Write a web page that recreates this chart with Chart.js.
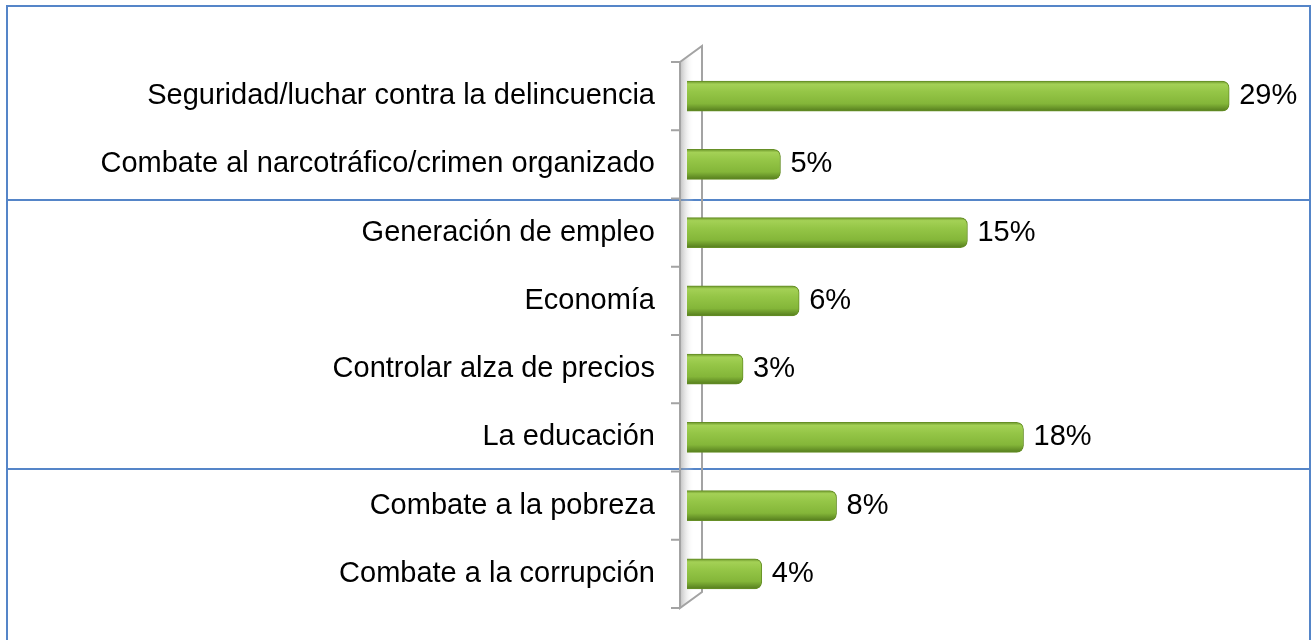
<!DOCTYPE html>
<html>
<head>
<meta charset="utf-8">
<script src="https://cdn.jsdelivr.net/npm/chart.js@4.4.1/dist/chart.umd.min.js"></script>
<style>
    html, body { margin: 0; padding: 0; background: #fff; }
    #wrap { width: 1316px; height: 640px; }
</style>
</head>
<body>
<div id="wrap"><canvas id="chart_1" width="1316" height="640"></canvas></div>
<script>
const categories = [
    'Seguridad/luchar contra la delincuencia',
    'Combate al narcotráfico/crimen organizado',
    'Generación de empleo',
    'Economía',
    'Controlar alza de precios',
    'La educación',
    'Combate a la pobreza',
    'Combate a la corrupción'
];
const values = [29, 5, 15, 6, 3, 18, 8, 4];

const FAMILY = '"Liberation Sans", Arial, sans-serif';
const SIZE = 29;

// blue frame of the table behind the chart
const framePlugin = {
    id: 'frame',
    beforeDraw(chart) {
        const ctx = chart.ctx;
        ctx.save();
        ctx.strokeStyle = '#5585c8';
        ctx.lineWidth = 2;
        ctx.beginPath();
        ctx.moveTo(7, 640);
        ctx.lineTo(7, 6);
        ctx.lineTo(1310, 6);
        ctx.lineTo(1310, 640);
        ctx.moveTo(7, 200);
        ctx.lineTo(1310, 200);
        ctx.moveTo(7, 469);
        ctx.lineTo(1310, 469);
        ctx.stroke();
        ctx.restore();
    }
};

// 3d wall on the category axis
const wallPlugin = {
    id: 'wall',
    beforeDatasetsDraw(chart) {
        const ctx = chart.ctx;
        const a = chart.chartArea;
        const x0 = a.left - 7, x1 = a.left + 15, d = 16;
        ctx.save();
        ctx.beginPath();
        ctx.moveTo(x0, a.top);
        ctx.lineTo(x1, a.top - d);
        ctx.lineTo(x1, a.bottom - d);
        ctx.lineTo(x0, a.bottom);
        ctx.closePath();
        const g = ctx.createLinearGradient(x0, 0, x0 + 14, 0);
        g.addColorStop(0, 'rgba(140,140,140,0.55)');
        g.addColorStop(1, 'rgba(255,255,255,0)');
        ctx.fillStyle = g;
        ctx.fill();
        ctx.strokeStyle = '#a3a3a3';
        ctx.lineWidth = 2;
        ctx.stroke();
        // tick marks on category boundaries
        ctx.beginPath();
        for (let i = 0; i <= categories.length; i++) {
            const py = a.top + (a.bottom - a.top) * i / categories.length;
            ctx.moveTo(x0 - 9, py);
            ctx.lineTo(x0, py);
        }
        ctx.stroke();
        ctx.restore();
    }
};

const labelPlugin = {
    id: 'valueLabels',
    afterDatasetsDraw(chart) {
        const ctx = chart.ctx;
        ctx.save();
        ctx.font = SIZE + 'px ' + FAMILY;
        ctx.fillStyle = '#000';
        ctx.textAlign = 'left';
        ctx.textBaseline = 'middle';
        chart.getDatasetMeta(0).data.forEach((bar, i) => {
            ctx.fillText(values[i] + '%', bar.x + 10, bar.y);
        });
        ctx.restore();
    }
};

function barGradient(context) {
    const chart = context.chart;
    if (!chart.chartArea) return '#8cc03c';
    const cy = chart.scales.y.getPixelForValue(context.dataIndex);
    const g = chart.ctx.createLinearGradient(0, cy - 15, 0, cy + 15);
    g.addColorStop(0, '#6c962a');
    g.addColorStop(0.1, '#a4d156');
    g.addColorStop(0.35, '#95c647');
    g.addColorStop(0.75, '#84b639');
    g.addColorStop(1, '#557d1d');
    return g;
}

document.addEventListener('DOMContentLoaded', function () {
    new Chart(document.getElementById('chart_1'), {
        type: 'bar',
        data: {
            labels: categories,
            datasets: [{
                data: values,
                backgroundColor: barGradient,
                borderColor: '#668f26',
                borderWidth: 1,
                borderSkipped: 'start',
                borderRadius: { topRight: 7, bottomRight: 7 },
                barThickness: 30
            }]
        },
        options: {
            indexAxis: 'y',
            responsive: false,
            animation: false,
            layout: { padding: { left: 0, top: 62, right: 12, bottom: 32 } },
            plugins: {
                legend: { display: false },
                tooltip: { enabled: false }
            },
            scales: {
                x: { display: false, min: 0, max: 33 },
                y: {
                    grid: { display: false, drawTicks: false },
                    border: { display: false },
                    afterFit(scale) {
                        scale.width = 687;
                        scale.paddingTop = 0;
                        scale.paddingBottom = 0;
                    },
                    ticks: {
                        padding: 32,
                        color: '#000',
                        font: { family: FAMILY, size: SIZE }
                    }
                }
            }
        },
        plugins: [framePlugin, wallPlugin, labelPlugin]
    });
});
</script>
</body>
</html>
